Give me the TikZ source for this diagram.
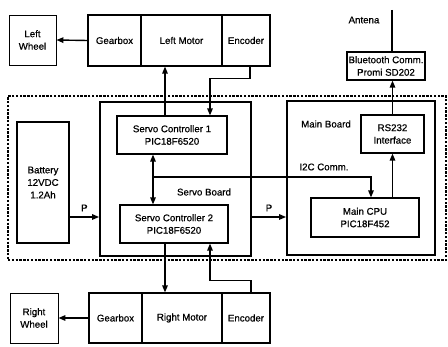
\documentclass[tikz,border=0pt]{standalone}
\usepackage{fontspec}
\setmainfont{Liberation Sans}[FakeBold=0.6]
\usetikzlibrary{arrows.meta,calc}

\begin{document}
\begin{tikzpicture}[x=1pt,y=-1pt,
  every node/.style={font=\fontsize{9.7}{12.5}\selectfont, inner sep=0pt},
  blk/.style={draw, line width=1.2pt, rectangle, align=center},
  whl/.style={draw, line width=0.9pt, rectangle, align=center},
  board/.style={draw, line width=1.8pt, rectangle},
  region/.style={draw, line width=2.2pt, dash pattern=on 2.4pt off 1.4pt, rectangle},
  arr/.style={line width=1.4pt, -{Triangle[length=7pt,width=5.5pt]}},
  arrb/.style={line width=1.4pt, {Triangle[length=7pt,width=5.5pt]}-{Triangle[length=7pt,width=5.5pt]}},
  lbl/.style={font=\fontsize{9.7}{12}\selectfont}
]
\useasboundingbox (0,0) rectangle (448,347);

% enclosing regions
\node[region, minimum width=438, minimum height=164] (robot) at (227,178) {};
\node[board, minimum width=151, minimum height=154] (sboard) at (175.5,179) {};
\node[board, minimum width=148, minimum height=154] (mboard) at (361,178) {};

% top drive train
\node[whl, minimum width=47, minimum height=50] (lwheel) at (32.5,40) {Left\\Wheel};
\node[blk, minimum width=53, minimum height=51] (lgear) at (114.5,40.5) {Gearbox};
\node[blk, minimum width=81, minimum height=51] (lmotor) at (181.5,40.5) {Left Motor};
\node[blk, minimum width=48, minimum height=51] (lenc) at (246,40.5) {Encoder};

% bottom drive train
\node[whl, minimum width=48, minimum height=50] (rwheel) at (34,318) {Right\\Wheel};
\node[blk, minimum width=53, minimum height=50] (rgear) at (115.5,318) {Gearbox};
\node[blk, minimum width=80, minimum height=50] (rmotor) at (182,318) {Right Motor};
\node[blk, minimum width=48, minimum height=50] (renc) at (246,318) {Encoder};

% electronics
\node[blk, minimum width=52, minimum height=121] (battery) at (43,182.5) {Battery\\12VDC\\1.2Ah};
\node[blk, minimum width=110, minimum height=38] (sc1) at (172,135) {Servo Controller 1\\PIC18F6520};
\node[blk, minimum width=108, minimum height=38] (sc2) at (174,224) {Servo Controller 2\\PIC18F6520};
\node[blk, minimum width=63, minimum height=38] (rs232) at (392.5,134) {RS232\\Interface};
\node[blk, minimum width=108, minimum height=39] (cpu) at (365,217.5) {Main CPU\\PIC18F452};
\node[blk, minimum width=78, minimum height=28] (bt) at (386,66) {Bluetooth Comm.\\Promi SD202};

% labels
\node[lbl] (sblabel) at (204,192) {Servo Board};
\node[lbl] (mblabel) at (326,124) {Main Board};
\node[lbl] (i2c) at (324,167) {I2C Comm.};
\node[lbl] (antlabel) at (364,20) {Antena};

% helper coordinates
\coordinate (m1) at (165,0);
\coordinate (e1) at (210,0);
\coordinate (v1) at (153,0);
\coordinate (br) at (153,177);
\coordinate (c1) at (371,0);
\coordinate (py) at (0,217);
\coordinate (ant) at (392,10);

% antenna
\draw[line width=2.6pt] (ant) -- (ant |- bt.north);

% wheels
\draw[arr] (lgear.west) -- (lwheel.east);
\draw[arr] (rgear.west) -- (rwheel.east);

% motor commands and encoder feedback
\draw[arr] (m1 |- sc1.north) -- (m1 |- lmotor.south);
\draw[arr] ([xshift=4pt]lenc.south) -- ++(0,12) -| (e1 |- sc1.north);
\draw[arr] (m1 |- sc2.south) -- (m1 |- rmotor.north);
\draw[arr] ([xshift=5pt]renc.north) -- ++(0,-12) -| (e1 |- sc2.south);

% I2C bus
\draw[arrb] (v1 |- sc1.south) -- (v1 |- sc2.north);
\draw[arr] (br) -| (c1 |- cpu.north);

% serial link
\draw[arr] (rs232.south |- cpu.north) -- (rs232.south);
\draw[arr] (rs232.north) -- (rs232.north |- bt.south);

% power
\draw[arr] (battery.east |- py) -- node[lbl, above=5pt] {P} (sboard.west |- py);
\draw[arr] (sboard.east |- py) -- node[lbl, above=5pt] {P} (mboard.west |- py);
\end{tikzpicture}
\end{document}
